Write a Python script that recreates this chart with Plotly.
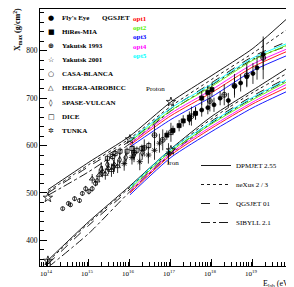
import numpy as np
import plotly.graph_objects as go

# ---------------- model curves: log10(E/eV) vs Xmax (g/cm^2) ----------------
logE_model = [14, 15, 16, 17, 18, 19, 20]
p_dpmjet = [507, 565, 620, 692, 748, 805, 881]
p_nexus = [503, 560, 615, 683, 740, 795, 855]
p_qgsjet = [500, 556, 610, 678, 733, 788, 825]
p_sibyll = [495, 545, 604, 673, 728, 782, 815]
fe_dpmjet = [358, 440, 515, 593, 662, 717, 772]
fe_nexus = [355, 437, 512, 590, 657, 712, 760]
fe_qgsjet = [350, 432, 508, 585, 652, 705, 750]
fe_sibyll = [343, 415, 503, 582, 648, 700, 745]

# QGSJET options (proton / iron)
logE_opt = [16, 17, 18, 19, 20]
p_opt1 = [601, 663, 712, 766, 805]
p_opt2 = [608, 674, 725, 780, 818]
p_opt3 = [597, 655, 703, 758, 796]
p_opt4 = [604, 668, 718, 772, 810]
p_opt5 = [611, 679, 730, 785, 821]
fe_opt1 = [500, 580, 637, 688, 730]
fe_opt2 = [508, 588, 646, 697, 742]
fe_opt3 = [496, 575, 630, 680, 721]
fe_opt4 = [504, 584, 641, 692, 737]
fe_opt5 = [512, 592, 650, 702, 747]

# star marks on the model curves
star_x = [14, 16, 17, 20, 14, 17, 20]
star_y = [490, 613, 692, 881, 357, 590, 789]

# ---------------- data ----------------
flys_x = [17.45, 17.6, 17.75, 17.9, 18.05, 18.2, 18.4, 18.55, 18.7, 18.85, 19.0, 19.1, 19.25]
flys_y = [655, 668, 675, 680, 686, 700, 695, 725, 732, 745, 752, 764, 792]
flys_e = [12, 12, 14, 14, 15, 15, 16, 18, 18, 20, 22, 25, 32]

hires_x = [16.9, 17.05, 17.2, 17.3, 17.45, 17.6, 17.75, 17.9, 18.0]
hires_y = [622, 632, 642, 652, 660, 668, 700, 712, 718]
hires_e = [10, 10, 12, 12, 12, 14, 14, 15, 15]

yak93_x = [16.1, 16.35, 16.6, 16.8, 17.0, 17.5, 17.95, 18.3, 18.55, 18.85, 19.25]
yak93_y = [585, 595, 622, 612, 628, 662, 694, 707, 726, 748, 785]
yak93_e = [15, 18, 22, 22, 20, 20, 22, 22, 25, 25, 45]

casa_x = [14.36, 14.5, 14.55, 14.65, 14.77, 14.84, 14.92, 15.0, 15.08, 15.16]
casa_y = [467, 478, 475, 488, 484, 499, 509, 503, 509, 520]
casa_e = [4, 4, 4, 5, 5, 5, 6, 6, 6, 6]

hegra_x = [15.08, 15.2, 15.25, 15.33, 15.4, 15.48, 15.55, 15.62, 15.7]
hegra_y = [530, 526, 538, 545, 540, 552, 548, 560, 556]
hegra_e = [10, 10, 12, 12, 12, 12, 14, 14, 14]

spase_x = [15.3, 15.45, 15.6, 15.75, 15.9, 16.1, 16.3]
spase_y = [550, 560, 555, 570, 575, 580, 585]
spase_e = [15, 15, 15, 15, 15, 15, 15]

dice_x = [15.45, 15.57, 15.64, 15.76, 15.93, 16.05, 16.17, 16.29, 16.46]
dice_y = [573, 577, 583, 588, 588, 594, 590, 594, 600]
dice_e = [8, 8, 8, 8, 8, 8, 8, 8, 8]

tunka_x = [15.86, 16.05, 16.24, 16.45, 16.6, 16.72, 16.94]
tunka_y = [562, 575, 566, 580, 590, 605, 583]
tunka_e = [15, 15, 18, 18, 20, 20, 22]

x_tick_vals = [14, 15, 16, 17, 18, 19, 20]
x_tick_text = ["10<sup>14</sup>", "10<sup>15</sup>", "10<sup>16</sup>", "10<sup>17</sup>",
               "10<sup>18</sup>", "10<sup>19</sup>", "10<sup>20</sup>"]
y_tick_vals = [400, 500, 600, 700, 800]

legend_names = ["Fly's Eye", "HiRes-MIA", "Yakutsk 1993", "Yakutsk 2001", "CASA-BLANCA",
                "HEGRA-AIROBICC", "SPASE-VULCAN", "DICE", "TUNKA"]
legend_glyphs = ["●", "■", "⊕", "☆", "○", "△", "◊", "□", "✲"]
opt_names = ["opt1", "opt2", "opt3", "opt4", "opt5"]
opt_colors = ["#ff0000", "#55ee00", "#0000ff", "#ff00ff", "#00ffff"]

SERIF = "Liberation Serif"

fig = go.Figure()

# model black curves
models = [("DPMJET 2.55", "solid", p_dpmjet, fe_dpmjet),
          ("neXus 2 / 3", "dot", p_nexus, fe_nexus),
          ("QGSJET 01", "dash", p_qgsjet, fe_qgsjet),
          ("SIBYLL 2.1", "dashdot", p_sibyll, fe_sibyll)]
for name, dash, pv, fv in models:
    fig.add_trace(go.Scatter(x=logE_model, y=pv, mode="lines", name=name,
                             line=dict(color="black", width=0.9, dash=dash, shape="spline", smoothing=0.6),
                             legend="legend2", showlegend=True))
    fig.add_trace(go.Scatter(x=logE_model, y=fv, mode="lines", name=name,
                             line=dict(color="black", width=0.9, dash=dash, shape="spline", smoothing=0.6),
                             legend="legend2", showlegend=False))

# QGSJET option curves
p_opts = [p_opt1, p_opt2, p_opt3, p_opt4, p_opt5]
fe_opts = [fe_opt1, fe_opt2, fe_opt3, fe_opt4, fe_opt5]
for name, col, pv, fv in zip(opt_names, opt_colors, p_opts, fe_opts):
    for vals in (pv, fv):
        fig.add_trace(go.Scatter(x=logE_opt, y=vals, mode="lines", name=name, showlegend=False,
                                 line=dict(color=col, width=0.9, shape="spline", smoothing=0.6)))

# star marks
fig.add_trace(go.Scatter(x=star_x, y=star_y, mode="markers", showlegend=False,
                         marker=dict(symbol="star-open", size=7, color="black", line=dict(width=0.8, color="black"))))

def data_trace(xs, ys, es, symbol, size):
    return go.Scatter(
        x=xs, y=ys, mode="markers", showlegend=False,
        error_y=dict(type="data", array=es, thickness=0.8, width=0, color="black"),
        marker=dict(symbol=symbol, size=size, color="black",
                    line=dict(width=0.8, color="black")))

fig.add_trace(data_trace(casa_x, casa_y, casa_e, "circle-open", 4))
fig.add_trace(data_trace(hegra_x, hegra_y, hegra_e, "triangle-up-open", 5))
fig.add_trace(data_trace(dice_x, dice_y, dice_e, "square-open", 4))
fig.add_trace(data_trace(spase_x, spase_y, spase_e, "diamond-tall-open", 5))
fig.add_trace(data_trace(tunka_x, tunka_y, tunka_e, "asterisk-open", 5))
fig.add_trace(data_trace(yak93_x, yak93_y, yak93_e, "circle-cross-open", 5))
fig.add_trace(data_trace(hires_x, hires_y, hires_e, "square", 4))
fig.add_trace(data_trace(flys_x, flys_y, flys_e, "circle", 4))

# ---------------- layout ----------------
W, H = 294, 287
ML, MR, MT, MB = 32, 6, 1, 29
PW, PH = W - ML - MR, H - MT - MB

def px2paper(px, py):
    return (px - ML) / PW, (H - MB - py) / PH

minor_x = [float(np.log10(k) + d) for d in range(13, 21) for k in range(2, 10)
           if 13.807 < np.log10(k) + d < 20.05]

annotations = []
row_y = [10, 24, 38, 52, 66, 80, 95, 109, 123]
for glyph, name, ry in zip(legend_glyphs, legend_names, row_y):
    gx, gy = px2paper(43, ry)
    tx, _ = px2paper(52, ry)
    annotations.append(dict(x=gx, y=gy, xref="paper", yref="paper", text="<b>%s</b>" % glyph, showarrow=False,
                            xanchor="center", yanchor="middle",
                            font=dict(family="DejaVu Sans", size=7, color="black")))
    annotations.append(dict(x=tx, y=gy, xref="paper", yref="paper", text="<b>%s</b>" % name,
                            showarrow=False, xanchor="left", yanchor="middle",
                            font=dict(family=SERIF, size=7, color="black")))

qx, qy = px2paper(92, 10)
annotations.append(dict(x=qx, y=qy, xref="paper", yref="paper", text="<b>QGSJET</b>", showarrow=False,
                        xanchor="left", yanchor="middle", font=dict(family=SERIF, size=7, color="black")))
for name, col, oy in zip(opt_names, opt_colors, [11, 20, 29, 39, 48]):
    ox, oyp = px2paper(123, oy)
    annotations.append(dict(x=ox, y=oyp, xref="paper", yref="paper", text="<b>%s</b>" % name,
                            showarrow=False, xanchor="left", yanchor="middle",
                            font=dict(family=SERIF, size=7, color=col)))

annotations.append(dict(x=16.62, y=720, xref="x", yref="y", text="Proton", showarrow=False,
                        font=dict(family=SERIF, size=7, color="black")))
annotations.append(dict(x=17.05, y=564, xref="x", yref="y", text="Iron", showarrow=False,
                        font=dict(family=SERIF, size=7, color="black")))

ytx, yty = px2paper(9, 22)
annotations.append(dict(x=ytx, y=yty, xref="paper", yref="paper", textangle=-90,
                        text="<b>X<sub>max</sub> (g/cm<sup>2</sup>)</b>", showarrow=False,
                        xanchor="center", yanchor="middle", font=dict(family=SERIF, size=8, color="black")))
xtx, xty = px2paper(253, 276)
annotations.append(dict(x=xtx, y=xty, xref="paper", yref="paper",
                        text="E<sub>lab</sub> (eV)", showarrow=False,
                        xanchor="left", yanchor="middle", font=dict(family=SERIF, size=8, color="black")))

lgx, lgy = px2paper(188, 143)

fig.update_layout(
    width=W, height=H,
    margin=dict(l=ML, r=MR, t=MT, b=MB, pad=0),
    paper_bgcolor="white", plot_bgcolor="white",
    font=dict(family=SERIF, size=7, color="black"),
    xaxis=dict(range=[13.807, 20.05], tickvals=x_tick_vals, ticktext=x_tick_text,
               ticks="inside", ticklen=7, tickwidth=0.8, tickcolor="black",
               showline=True, linecolor="black", linewidth=1, mirror=True,
               showgrid=False, zeroline=False, ticklabeloverflow="allow",
               ticklabelshift=-2, ticklabelstandoff=1,
               tickfont=dict(family=SERIF, size=7, color="black"),
               minor=dict(tickvals=minor_x, ticks="inside", ticklen=4, tickwidth=0.8, tickcolor="black",
                          showgrid=False)),
    yaxis=dict(range=[346, 888], tickvals=y_tick_vals,
               ticks="inside", ticklen=7, tickwidth=0.8, tickcolor="black",
               showline=True, linecolor="black", linewidth=1, mirror=True,
               showgrid=False, zeroline=False,
               tickfont=dict(family=SERIF, size=7.5, color="black"),
               minor=dict(dtick=20, ticks="inside", ticklen=4, tickwidth=0.8, tickcolor="black",
                          showgrid=False)),
    showlegend=True,
    legend2=dict(x=lgx, y=lgy, xanchor="left", yanchor="top", bgcolor="rgba(0,0,0,0)",
                 borderwidth=0, itemwidth=30, tracegroupgap=0,
                 font=dict(family=SERIF, size=7, color="black")),
    annotations=annotations,
)

fig.write_html("out.html")
